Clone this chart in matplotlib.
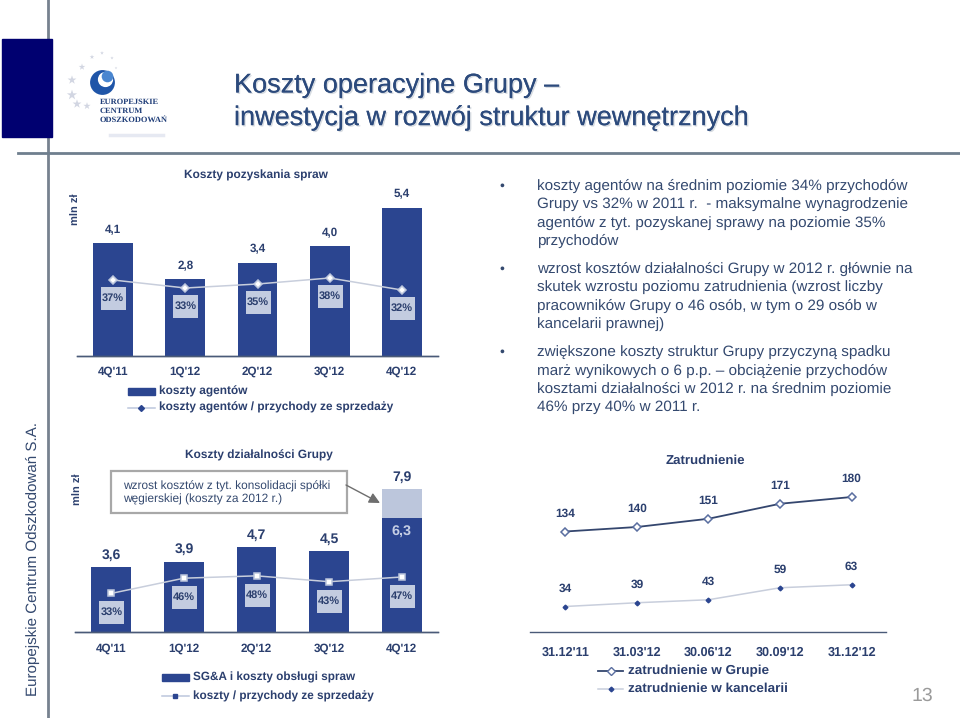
import matplotlib
matplotlib.use('Agg')
import matplotlib.pyplot as plt
import matplotlib.patheffects as pe
from matplotlib.patches import Rectangle, FancyArrowPatch
from matplotlib.transforms import offset_copy

W, H = 960, 718
plt.rcParams['font.family'] = ['Liberation Sans', 'DejaVu Sans']
plt.rcParams['text.hinting'] = 'none'

quarters = ["4Q'11", "1Q'12", "2Q'12", "3Q'12", "4Q'12"]
agents = [4.1, 2.8, 3.4, 4.0, 5.4]
agents_labels = ['4,1', '2,8', '3,4', '4,0', '5,4']
agents_pct = [37, 33, 35, 38, 32]

ops = [3.6, 3.9, 4.7, 4.5, 6.3]
ops_extra = [0, 0, 0, 0, 1.6]
ops_labels = ['3,6', '3,9', '4,7', '4,5', '7,9']
ops_pct = [33, 46, 48, 43, 47]

dates = ["31.12'11", "31.03'12", "30.06'12", "30.09'12", "31.12'12"]
staff_group = [134, 140, 151, 171, 180]
staff_law = [34, 39, 43, 59, 63]

bullets = [
    (186, ["koszty agentów na średnim poziomie 34% przychodów",
           "Grupy vs 32% w 2011 r.  - maksymalne wynagrodzenie",
           "agentów z tyt. pozyskanej sprawy na poziomie 35%",
           "przychodów"]),
    (269, ["wzrost kosztów działalności Grupy w 2012 r. głównie na",
           "skutek wzrostu poziomu zatrudnienia (wzrost liczby",
           "pracowników Grupy o 46 osób, w tym o 29 osób w",
           "kancelarii prawnej)"]),
    (352.5, ["zwiększone koszty struktur Grupy przyczyną spadku",
             "marż wynikowych o 6 p.p. \u2013 obciążenie przychodów",
             "kosztami działalności w 2012 r. na średnim poziomie",
             "46% przy 40% w 2011 r."]),
]

NAVY = '#2B4590'
LIGHT = '#C3CCE0'
PALE = '#BCC6DC'
INK = '#2B3F6E'
BODY = '#34496F'
BOX = [(-12.5, -11.5), (12.5, -11.5), (12.5, 11.5), (-12.5, 11.5)]


def px_axes(fig, left, top, right, bottom):
    return fig.add_axes([left / W, 1 - bottom / H, (right - left) / W, (bottom - top) / H])


def clean(ax):
    for s in ['top', 'left', 'right']:
        ax.spines[s].set_visible(False)
    ax.spines['bottom'].set_color('#4A5A78')
    ax.spines['bottom'].set_linewidth(1.0)
    ax.set_yticks([])
    ax.set_xticks([])
    ax.patch.set_alpha(0)


def pct_boxes(ax, values, drop):
    # szare prostokaty pod punktami linii
    shifted = offset_copy(ax.transData, fig=fig, x=0, y=-drop, units='dots')
    ax.plot(range(len(values)), values, ls='none', marker=BOX, ms=18, mfc=LIGHT, mew=0, transform=shifted, zorder=1)
    for i, v in enumerate(values):
        ax.annotate(f'{v}%', (i, v), xytext=(0, -drop), textcoords='offset pixels', ha='center', va='center',
                    fontsize=7.9, weight='bold', color=INK, zorder=4)


fig = plt.figure(figsize=(W / 100, H / 100), dpi=100, facecolor='white')

# tlo slajdu w pikselach
bg = fig.add_axes([0, 0, 1, 1])
bg.set_xlim(0, W)
bg.set_ylim(H, 0)
bg.axis('off')
bg.plot([48, 48], [0, H], color='#77828F', lw=2)
bg.plot([18, W], [153, 153], color='#6F7F8E', lw=2)
bg.add_patch(Rectangle((2, 39), 50, 98, color='#000070', zorder=3))

# logo
bg.scatter([72, 72, 77, 87, 82, 92, 102, 112, 116], [80, 95, 104, 106, 67, 57, 53, 58, 68],
           marker='*', s=[45, 60, 45, 30, 25, 12, 8, 6, 4], color='#D2D6E2', linewidths=0, zorder=3)
bg.scatter([102], [82], s=320, color='#1F55A8', linewidths=0, zorder=3)
bg.scatter([105], [79], s=120, color='white', linewidths=0, zorder=4)
bg.scatter([107], [76], s=70, color='#4A86D0', linewidths=0, zorder=5)
for i, t in enumerate(['EUROPEJSKIE', 'CENTRUM', 'ODSZKODOWAŃ']):
    bg.text(100, 102 + i * 9, t, family=['Liberation Serif', 'DejaVu Serif'], weight='bold',
            fontsize=6.0, color='#1F3D78', va='center')
bg.plot([110, 163], [135, 135], color='#E6E9F2', lw=2.5)

# tytul
shadow = [pe.withSimplePatchShadow(offset=(1, -1), shadow_rgbFace='#9AA6B4', alpha=0.4), pe.Normal()]
bg.text(234, 85.5, 'Koszty operacyjne Grupy \u2013', fontsize=19.5, color='#2C4A7C', va='center',
        path_effects=shadow)
bg.text(234, 118, 'inwestycja w rozwój struktur wewnętrznych', fontsize=19.5, color='#2C4A7C', va='center',
        path_effects=shadow)

bg.text(33, 559.5, 'Europejskie Centrum Odszkodowań S.A.', rotation=90, fontsize=10.9, color=BODY,
        ha='center', va='center')
bg.text(75, 209.5, 'mln zł', rotation=90, fontsize=8, weight='bold', color=INK, ha='center', va='center')
bg.text(77, 489, 'mln zł', rotation=90, fontsize=8, weight='bold', color=INK, ha='center', va='center')
bg.text(922, 696, '13', fontsize=14, color='#9A9A9A', ha='center', va='center')

# punkty po prawej
for top, lines in bullets:
    bg.text(502, top, '\u2022', fontsize=10, color=BODY, ha='center', va='center')
    for i, line in enumerate(lines):
        bg.text(537, top + i * 18.3, line, fontsize=10.95, color=BODY, va='center')

# wykres 1 - koszty agentow
ax1 = px_axes(fig, 77, 196, 438, 356)
clean(ax1)
ax1.set_xlim(-0.5, 4.5)
ax1.set_ylim(0, 160 / 27.5)
x = range(len(quarters))
ax1.bar(x, agents, width=0.55, color=NAVY)
for i, v in enumerate(agents):
    ax1.annotate(agents_labels[i], (i, v), xytext=(0, 13), textcoords='offset pixels',
                 ha='center', va='center', fontsize=8.4, weight='bold', color=INK)
    ax1.text(i, -0.58, quarters[i], ha='center', va='center', fontsize=8.4, weight='bold', color=INK)
ax1r = ax1.twinx()
clean(ax1r)
ax1r.set_ylim(-1, 79)
pct_boxes(ax1r, agents_pct, 18)
ax1r.plot(x, agents_pct, color='#C8CEDC', lw=1.1, marker='D', ms=3.8, mfc='white', mec=PALE, mew=1.1)
bg.text(256, 175, 'Koszty pozyskania spraw', fontsize=8.6, weight='bold', color=INK, ha='center', va='center')

# legenda 1
bg.add_patch(Rectangle((128, 388), 27, 7, color=NAVY))
bg.text(159, 391, 'koszty agentów', fontsize=8.6, weight='bold', color=INK, va='center')
bg.plot([128, 155], [407.5, 407.5], color=PALE, lw=1.1)
bg.plot([141], [407.5], marker='D', ms=3, color=NAVY)
bg.text(159, 407.5, 'koszty agentów / przychody ze sprzedaży', fontsize=8.6, weight='bold', color=INK, va='center')

# wykres 2 - koszty dzialalnosci
ax2 = px_axes(fig, 75, 480, 438, 632)
clean(ax2)
ax2.set_xlim(-0.5, 4.5)
ax2.set_ylim(0, 152 / 18.05)
ax2.bar(x, ops, width=0.55, color=NAVY)
ax2.bar(x, ops_extra, bottom=ops, width=0.55, color=PALE)
for i, v in enumerate(ops):
    ax2.annotate(ops_labels[i], (i, v + ops_extra[i]), xytext=(0, 12), textcoords='offset pixels',
                 ha='center', va='center', fontsize=10, weight='bold', color=INK)
    ax2.text(i, -0.9, quarters[i], ha='center', va='center', fontsize=8.4, weight='bold', color=INK)
ax2.annotate('6,3', (4, 6.3), xytext=(0, -13), textcoords='offset pixels', ha='center', va='center',
             fontsize=10.4, weight='bold', color='#C5CEE4')
ax2r = ax2.twinx()
clean(ax2r)
ax2r.set_ylim(0, 152 / 1.17)
pct_boxes(ax2r, ops_pct, 19)
ax2r.plot(x, ops_pct, color='#C8CEDC', lw=1.1, marker='s', ms=4.3, mfc='white', mec=PALE, mew=1.1)
bg.text(259, 455, 'Koszty działalności Grupy', fontsize=8.6, weight='bold', color=INK, ha='center', va='center')

# ramka z objasnieniem
bg.add_patch(Rectangle((110.5, 470.5), 236, 42, fc='white', ec='#A8A8A8', lw=1.6, zorder=3))
bg.text(123, 486, 'wzrost kosztów z tyt. konsolidacji spółki', fontsize=8.55, color=BODY, va='center', zorder=4)
bg.text(123, 499.5, 'węgierskiej (koszty za 2012 r.)', fontsize=8.55, color=BODY, va='center', zorder=4)
bg.add_patch(FancyArrowPatch((346, 485), (380, 503), arrowstyle='-|>', mutation_scale=16, color='#6E6E6E',
                             lw=1, shrinkA=0, shrinkB=0, zorder=4))

# legenda 2
bg.add_patch(Rectangle((162, 674), 27, 6.5, color=NAVY))
bg.text(193, 677.5, 'SG&A i koszty obsługi spraw', fontsize=8.45, weight='bold', color=INK, va='center')
bg.plot([162, 189], [696, 696], color=PALE, lw=1.1)
bg.plot([175], [696], marker='s', ms=3.5, color=NAVY)
bg.text(193, 696, 'koszty / przychody ze sprzedaży', fontsize=8.5, weight='bold', color=INK, va='center')

# wykres 3 - zatrudnienie
ax3 = px_axes(fig, 529.5, 480, 886, 632)
clean(ax3)
ax3.set_xlim(-0.5, 4.48)
ax3.set_ylim(0, 152 / 0.75)
ax3.plot(x, staff_group, color='#34466E', lw=1.3, marker='D', ms=3.8, mfc='white', mec='#5A6EA0', mew=1.1)
ax3.plot(x, staff_law, color='#C8CEDC', lw=1.1, marker='D', ms=2.4, mfc=NAVY, mec=NAVY)
for i in x:
    ax3.annotate(str(staff_group[i]), (i, staff_group[i]), xytext=(0, 18), textcoords='offset pixels',
                 ha='center', va='center', fontsize=8.6, weight='bold', color=INK)
    ax3.annotate(str(staff_law[i]), (i, staff_law[i]), xytext=(0, 18), textcoords='offset pixels',
                 ha='center', va='center', fontsize=8.6, weight='bold', color=INK)
    ax3.text(i, -27, dates[i], ha='center', va='center', fontsize=9.1, weight='bold', color=INK)
bg.text(705, 461, 'Zatrudnienie', fontsize=9.5, weight='bold', color=INK, ha='center', va='center')

# legenda 3
bg.plot([598, 623], [671, 671], color='#34466E', lw=1.3)
bg.plot([611], [671], marker='D', ms=3.8, mfc='white', mec='#5A6EA0', mew=1)
bg.text(628, 671, 'zatrudnienie w Grupie', fontsize=9.7, weight='bold', color=INK, va='center')
bg.plot([598, 623], [689, 689], color='#C8CEDC', lw=1.1)
bg.plot([611], [689], marker='D', ms=2.4, color=NAVY)
bg.text(628, 689, 'zatrudnienie w kancelarii', fontsize=9.7, weight='bold', color=INK, va='center')

fig.savefig('out.png', dpi=100)
